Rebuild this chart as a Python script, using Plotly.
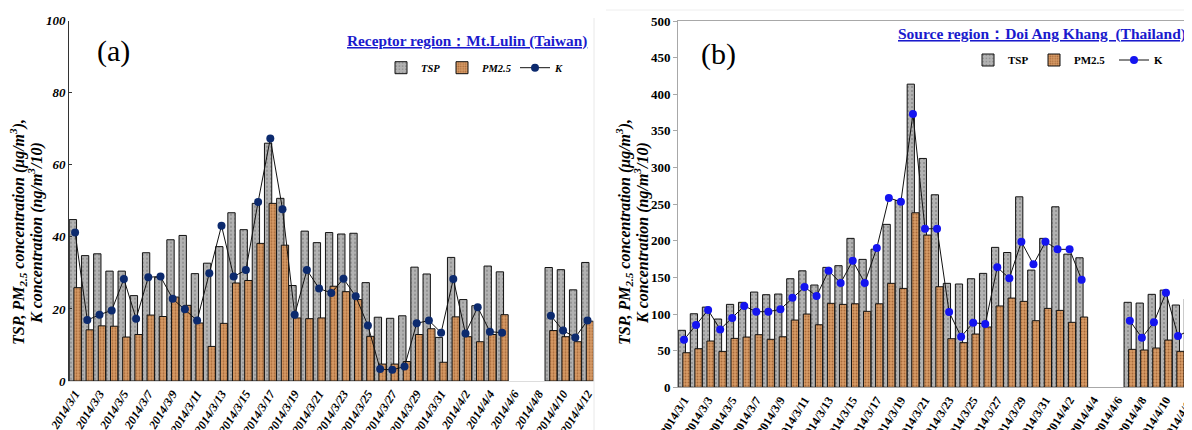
import plotly.graph_objects as go

dates = ["2014/3/1", "2014/3/2", "2014/3/3", "2014/3/4", "2014/3/5", "2014/3/6", "2014/3/7",
         "2014/3/8", "2014/3/9", "2014/3/10", "2014/3/11", "2014/3/12", "2014/3/13", "2014/3/14",
         "2014/3/15", "2014/3/16", "2014/3/17", "2014/3/18", "2014/3/19", "2014/3/20", "2014/3/21",
         "2014/3/22", "2014/3/23", "2014/3/24", "2014/3/25", "2014/3/26", "2014/3/27", "2014/3/28",
         "2014/3/29", "2014/3/30", "2014/3/31", "2014/4/1", "2014/4/2", "2014/4/3", "2014/4/4",
         "2014/4/5", "2014/4/6", "2014/4/7", "2014/4/8", "2014/4/9", "2014/4/10", "2014/4/11",
         "2014/4/12"]
tick_labels = dates[::2]

# Panel (a): Receptor region Mt.Lulin (Taiwan)
tsp_a = [44.8, 34.8, 35.3, 30.5, 30.5, 23.7, 35.6, 28.8, 39.2, 40.4, 29.8, 32.7, 37.3, 46.7,
         42.0, 49.3, 66.0, 50.7, 26.5, 41.6, 38.4, 41.2, 40.8, 41.0, 27.3, 17.7, 17.4, 18.1,
         31.6, 29.7, 12.1, 34.3, 22.6, 20.9, 31.9, 30.3, None, None, None, 31.5, 30.9, 25.3, 32.9]
pm_a = [25.9, 14.2, 15.3, 15.2, 12.2, 12.9, 18.3, 17.9, 23.3, 21.0, 16.1, 9.6, 16.0, 27.2,
        27.9, 38.2, 49.3, 37.7, 17.5, 17.3, 17.5, 26.3, 24.8, 22.6, 12.4, 4.7, 4.7, 5.4,
        12.9, 14.5, 5.2, 17.8, 12.3, 10.9, 12.9, 18.4, None, None, None, 14.0, 12.3, 10.9, 16.6]
k_a = [41.2, 16.9, 18.4, 19.6, 28.3, 17.3, 28.8, 29.0, 22.8, 19.9, 16.8, 29.9, 43.1, 29.0,
       30.8, 49.7, 67.3, 47.7, 18.4, 30.8, 25.7, 24.4, 28.4, 23.5, 15.4, 3.3, 3.1, 4.0,
       16.0, 16.8, 13.4, 28.3, 13.2, 20.5, 13.7, 13.4, None, None, None, 18.1, 14.0, 12.1, 16.8]

# Panel (b): Source region Doi Ang Khang (Thailand)
tsp_b = [77.8, 100.4, 109.5, 93.2, 113.2, 116.0, 130.0, 126.4, 127.3, 148.2, 159.0, 139.6,
         163.7, 166.0, 203.3, 174.6, 188.5, 222.4, 255.0, 413.8, 312.4, 262.8, 141.9, 141.0,
         148.2, 155.5, 191.0, 184.0, 260.0, 160.0, 203.3, 246.4, 181.8, 176.8, None, None, None,
         116.0, 115.0, 126.9, 132.7, 112.3, 120.5]
pm_b = [47.2, 52.7, 63.2, 49.0, 66.8, 68.6, 71.8, 65.5, 69.0, 91.8, 100.0, 85.4,
        114.6, 113.2, 114.0, 103.7, 114.0, 141.9, 135.0, 238.2, 207.8, 137.3, 66.3, 60.9,
        72.7, 82.3, 111.0, 121.8, 117.3, 90.9, 107.7, 105.0, 88.7, 95.9, None, None, None,
        51.8, 50.9, 53.6, 64.5, 49.1, 49.5]
k_b = [65.0, 85.0, 105.5, 79.0, 94.5, 111.0, 103.2, 103.2, 106.4, 122.3, 136.8, 124.6,
       159.0, 142.5, 172.7, 142.5, 190.3, 258.5, 253.2, 372.9, 216.4, 216.4, 102.7, 69.0,
       88.2, 86.4, 163.7, 148.8, 198.6, 167.8, 198.6, 188.3, 188.3, 146.8, None, None, None,
       90.9, 67.7, 88.7, 129.1, 70.0, 78.2]

SERIF = "Times New Roman, Liberation Serif, serif"
# the page body has an 8px margin, so the figure starts at (8, 8) of the window
OFF = 8
W, H = 1192 - OFF, 430 - OFF


def px(x):
    return (x - OFF) / W


def py(y):
    return (H - (y - OFF)) / H


tsp_marker = dict(color="#B2B2B2", line=dict(color="#111111", width=1),
                  pattern=dict(shape=".", fgcolor="#6A6A6A", bgcolor="#B2B2B2", size=4, solidity=0.12))
pm_marker = dict(color="#D3955E", line=dict(color="#111111", width=1),
                 pattern=dict(shape=".", fgcolor="#A86A3A", bgcolor="#D79B66", size=3, solidity=0.3))

fig = go.Figure()

# Panel (a)
fig.add_trace(go.Bar(x=dates, y=tsp_a, name="<b><i>TSP</i></b>", width=0.6, offset=-0.48,
                     marker=tsp_marker, xaxis="x", yaxis="y", legend="legend", legendwidth=16))
fig.add_trace(go.Bar(x=dates, y=pm_a, name="<b><i>PM2.5</i></b>", width=0.6, offset=-0.1,
                     marker=pm_marker, xaxis="x", yaxis="y", legend="legend", legendwidth=28))
fig.add_trace(go.Scatter(x=dates, y=k_a, name="<b><i>K</i></b>", mode="lines+markers",
                         line=dict(color="#111111", width=1),
                         marker=dict(color="#0C2A6E", size=8), xaxis="x", yaxis="y",
                         legend="legend"))

# Panel (b)
fig.add_trace(go.Bar(x=dates, y=tsp_b, name="<b>TSP</b>", width=0.6, offset=-0.48,
                     marker=tsp_marker, xaxis="x2", yaxis="y2", legend="legend2", legendwidth=21))
fig.add_trace(go.Bar(x=dates, y=pm_b, name="<b>PM2.5</b>", width=0.6, offset=-0.1,
                     marker=pm_marker, xaxis="x2", yaxis="y2", legend="legend2", legendwidth=35))
fig.add_trace(go.Scatter(x=dates, y=k_b, name="<b>K</b>", mode="lines+markers",
                         line=dict(color="#111111", width=1),
                         marker=dict(color="#1414F0", size=8), xaxis="x2", yaxis="y2",
                         legend="legend2"))

xa_common = dict(type="category", tickmode="array", tickvals=tick_labels, ticktext=tick_labels,
                 tickangle=-58, ticks="", showgrid=False, zeroline=False, automargin=False)

fig.update_layout(
    template="none",
    width=W, height=H,
    margin=dict(l=0, r=0, t=0, b=0, pad=0),
    paper_bgcolor="white", plot_bgcolor="white",
    barmode="overlay",
    xaxis=dict(**xa_common, domain=[px(69), px(593.6)], range=[-0.5, 42.5], anchor="y",
               showline=True, linecolor="#DDDDDD", linewidth=1,
               tickfont=dict(family=SERIF, size=12, color="black", weight="bold", style="italic")),
    yaxis=dict(domain=[py(381), py(20.7)], range=[0, 100], dtick=20, anchor="x", automargin=False,
               showline=True, linecolor="#333333", linewidth=1, showgrid=False, zeroline=False,
               ticks="inside", ticklen=3, tickcolor="#333333",
               tickfont=dict(family=SERIF, size=13, color="black", weight="bold", style="italic")),
    xaxis2=dict(**xa_common, domain=[px(678), 1.0], range=[-0.5, 42.16], anchor="y2",
                showline=True, linecolor="#A8A8A8", linewidth=1, mirror=True,
                tickfont=dict(family=SERIF, size=12, color="black", weight="bold")),
    yaxis2=dict(domain=[py(387.3), py(21.0)], range=[0, 500], dtick=50, anchor="x2", automargin=False,
                showline=True, linecolor="#A8A8A8", linewidth=1, showgrid=False, zeroline=False,
                ticks="outside", ticklen=4, tickcolor="#A8A8A8",
                tickfont=dict(family=SERIF, size=13, color="black", weight="bold")),
    legend=dict(orientation="h", x=px(381), y=py(67.7), xanchor="left", yanchor="middle",
                font=dict(family=SERIF, size=10.5, color="black"), bgcolor="rgba(0,0,0,0)",
                traceorder="normal", itemwidth=30),
    legend2=dict(orientation="h", x=px(968), y=py(60), xanchor="left", yanchor="middle",
                 font=dict(family=SERIF, size=11, color="black"), bgcolor="rgba(0,0,0,0)",
                 traceorder="normal", itemwidth=30),
    showlegend=True,
)

ytitle1 = "<b><i>TSP, PM<sub>2.5</sub> concentration (\u03bcg/m<sup>3</sup>),</i></b>"
ytitle2 = "<b><i>K concentration (ng/m<sup>3</sup>/10)</i></b>"


def ann_text(text, x, y, size, angle=0, xanchor="center", color="black"):
    return dict(text=text, x=px(x), y=py(y), xref="paper", yref="paper", showarrow=False,
                textangle=angle, xanchor=xanchor, yanchor="middle",
                font=dict(family=SERIF, size=size, color=color))


annotations = [
    ann_text("(a)", 113, 51, 30),
    ann_text("(b)", 718, 54, 30),
    ann_text("<b><u>Receptor region\uff1aMt.Lulin (Taiwan)</u></b>", 589, 40.7, 15.3,
             xanchor="right", color="#1A1ACD"),
    ann_text("<b><u>Source region\uff1aDoi Ang Khang&nbsp; (Thailand)</u></b>", 1188, 34.3, 15.5,
             xanchor="right", color="#1A1ACD"),
    ann_text(ytitle1, 18, 232, 16, angle=-90),
    ann_text(ytitle2, 35, 233, 16, angle=-90),
    ann_text(ytitle1, 624, 232, 16, angle=-90),
    ann_text(ytitle2, 641, 233, 16, angle=-90),
]
fig.update_layout(annotations=annotations)

fig.add_shape(type="line", xref="paper", yref="paper", x0=px(594), x1=px(594), y0=0, y1=py(18),
              line=dict(color="#E8E8E8", width=1))
fig.add_shape(type="line", xref="paper", yref="paper", x0=px(606), x1=1.0, y0=py(10), y1=py(10),
              line=dict(color="#EEEEEE", width=1))

fig.write_html("out.html")
